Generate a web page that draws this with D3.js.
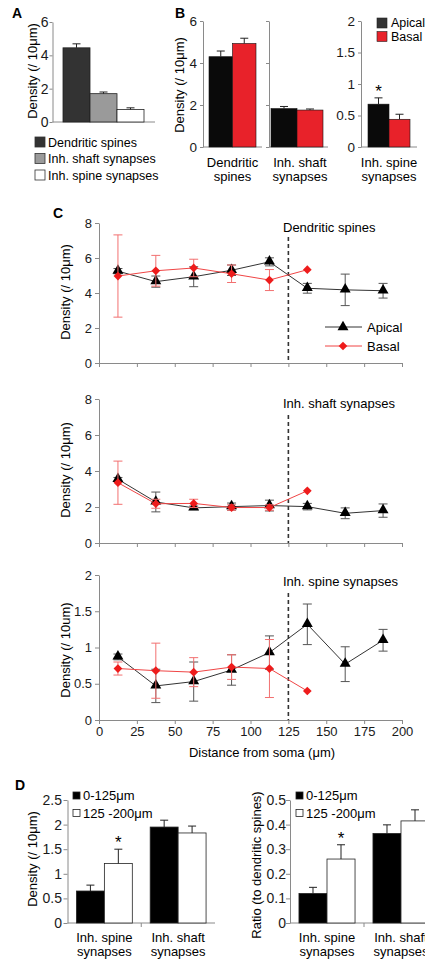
<!DOCTYPE html>
<html>
<head>
<meta charset="utf-8">
<script src="https://cdn.jsdelivr.net/npm/d3@7"></script>
<style>
body { margin: 0; background: #fff; }
svg { display: block; font-family: "Liberation Sans", Arial, sans-serif; }
.axis path, .axis line { stroke: #8a8a8a; }
.axis text { fill: #1a1a1a; font-size: 13px; font-family: "Liberation Sans", Arial, sans-serif; }
</style>
</head>
<body>
<div id="chart"></div>
<script>
// Panel A
var aCats = ["Dendritic spines", "Inh. shaft synapses", "Inh. spine synapses"];
var aValues = [4.45, 1.7, 0.75];
var aErrors = [0.24, 0.1, 0.1];
var aTicks = [0, 2, 4, 6];

// Panel B
var bGroups = ["Dendritic spines", "Inh. shaft synapses", "Inh. spine synapses"];
var bSeries = ["Apical", "Basal"];
var bApical = [4.3, 1.83, 0.68];
var bApicalErr = [0.27, 0.1, 0.1];
var bBasal = [4.93, 1.76, 0.44];
var bBasalErr = [0.25, 0.05, 0.08];

// Panel C
var distances = [12.5, 37.5, 62.5, 87.5, 112.5, 137.5, 162.5, 187.5];
var cXTicks = [0, 25, 50, 75, 100, 125, 150, 175, 200];
var spinesApical = [5.25, 4.65, 4.93, 5.3, 5.78, 4.27, 4.18, 4.13];
var spinesApicalErr = [0.15, 0.32, 0.57, 0.3, 0.23, 0.28, 0.9, 0.42];
var spinesBasal = [4.97, 5.27, 5.43, 5.1, 4.74, 5.33];
var spinesBasalErr = [2.35, 0.88, 0.5, 0.5, 0.6, 0];
var shaftApical = [3.54, 2.28, 1.95, 2.02, 2.08, 2.02, 1.65, 1.8];
var shaftApicalErr = [0.1, 0.55, 0.1, 0.2, 0.3, 0.18, 0.3, 0.37];
var shaftBasal = [3.35, 2.18, 2.2, 1.97, 1.97, 2.9];
var shaftBasalErr = [1.2, 0.25, 0.23, 0.15, 0.15, 0];
var inhSpineApical = [0.87, 0.47, 0.53, 0.69, 0.93, 1.32, 0.77, 1.1];
var inhSpineApicalErr = [0.04, 0.23, 0.27, 0.21, 0.23, 0.28, 0.24, 0.15];
var inhSpineBasal = [0.71, 0.68, 0.66, 0.73, 0.71, 0.4];
var inhSpineBasalErr = [0.09, 0.38, 0.2, 0.17, 0.4, 0];

// Panel D
var dGroups = ["Inh. spine synapses", "Inh. shaft synapses"];
var dRanges = ["0-125μm", "125 -200μm"];
var dDensityNear = [0.65, 1.95];
var dDensityNearErr = [0.12, 0.14];
var dDensityFar = [1.21, 1.83];
var dDensityFarErr = [0.29, 0.14];
var dRatioNear = [0.12, 0.364];
var dRatioNearErr = [0.025, 0.035];
var dRatioFar = [0.26, 0.415];
var dRatioFarErr = [0.058, 0.045];

var svg = d3.select("#chart").append("svg")
    .attr("width", 425)
    .attr("height", 963);

var fmt = d3.format("~g");

function yAxis(scale, x, ticks, showLabels, size, tSize, tPad) {
    var ax = d3.axisLeft(scale).tickValues(ticks)
        .tickSize(tSize == null ? 4 : tSize)
        .tickPadding(tPad == null ? 3 : tPad)
        .tickSizeOuter(0)
        .tickFormat(showLabels ? fmt : "");
    var g = svg.append("g").attr("class", "axis")
        .attr("transform", "translate(" + x + ",0)")
        .call(ax);
    if (size) g.selectAll("text").style("font-size", size + "px");
    return g;
}

function hLine(x1, x2, y) {
    svg.append("line").attr("x1", x1).attr("x2", x2).attr("y1", y).attr("y2", y)
        .attr("stroke", "#8a8a8a");
}

function panelLetter(t, x, y) {
    svg.append("text").attr("x", x).attr("y", y).text(t)
        .style("font-weight", "bold").style("font-size", "14px");
}

function yTitle(t, x, y) {
    svg.append("text").attr("transform", "translate(" + x + "," + y + ") rotate(-90)")
        .attr("text-anchor", "middle").style("font-size", "13px").text(t);
}

// draw upward error bar
function upErr(cx, yTop, yBar, w, color) {
    svg.append("line").attr("x1", cx).attr("x2", cx).attr("y1", yBar).attr("y2", yTop)
        .attr("stroke", color || "#222");
    svg.append("line").attr("x1", cx - w / 2).attr("x2", cx + w / 2).attr("y1", yTop).attr("y2", yTop)
        .attr("stroke", color || "#222");
}

function twoLines(name, cx, y1, y2) {
    var i = name.lastIndexOf(" ");
    var t = svg.append("text").attr("text-anchor", "middle").style("font-size", "13px");
    t.append("tspan").attr("x", cx).attr("y", y1).text(name.slice(0, i));
    t.append("tspan").attr("x", cx).attr("y", y2).text(name.slice(i + 1));
}

// ---------- A ----------
panelLetter("A", 12, 18);
var yA = d3.scaleLinear().domain([0, 6]).range([122, 22]);
var xA = d3.scaleBand().domain(aCats).range([63, 144]);
var aFills = ["#333333", "#9a9a9a", "#ffffff"];
yAxis(yA, 52.5, aTicks, true, 14, 3, 1);
hLine(52.5, 155, 122);
svg.selectAll(".barA").data(aCats).enter().append("rect")
    .attr("class", "barA")
    .attr("x", function(d) { return xA(d); })
    .attr("width", xA.bandwidth())
    .attr("y", function(d, i) { return yA(aValues[i]); })
    .attr("height", function(d, i) { return yA(0) - yA(aValues[i]); })
    .attr("fill", function(d, i) { return aFills[i]; })
    .attr("stroke", "#222").attr("stroke-width", 0.8);
aCats.forEach(function(c, i) {
    upErr(xA(c) + xA.bandwidth() / 2, yA(aValues[i] + aErrors[i]), yA(aValues[i]), 8);
});
yTitle("Density (/ 10μm)", 37, 71);
aCats.forEach(function(c, i) {
    var cy = 142 + i * 16.5;
    svg.append("rect").attr("x", 35).attr("y", cy - 5).attr("width", 10).attr("height", 10)
        .attr("fill", aFills[i]).attr("stroke", "#333").attr("stroke-width", 0.8);
    svg.append("text").attr("x", 48).attr("y", cy + 4.5).style("font-size", "12.5px").text(c);
});

// ---------- B ----------
panelLetter("B", 175, 18);
var bLayout = [
    { axisX: 203, bars: [209, 256], end: 262, yMax: 6, ticks: [0, 2, 4, 6], labels: true },
    { axisX: 269, bars: [271, 323], end: 328, yMax: 6, ticks: [0, 2, 4, 6], labels: false },
    { axisX: 361, bars: [368, 410], end: 417, yMax: 2, ticks: [0, 0.5, 1, 1.5, 2], labels: true }
];
var bColors = ["#0a0a0a", "#e8222a"];
bGroups.forEach(function(grp, gi) {
    var L = bLayout[gi];
    var y = d3.scaleLinear().domain([0, L.yMax]).range([147, 21]);
    var x = d3.scaleBand().domain(bSeries).range(L.bars);
    yAxis(y, L.axisX, L.ticks, L.labels, 13.5, 3, 3);
    hLine(L.axisX, L.end, 147);
    var vals = [bApical[gi], bBasal[gi]];
    var errs = [bApicalErr[gi], bBasalErr[gi]];
    bSeries.forEach(function(s, si) {
        svg.append("rect")
            .attr("x", x(s)).attr("width", x.bandwidth())
            .attr("y", y(vals[si])).attr("height", y(0) - y(vals[si]))
            .attr("fill", bColors[si]).attr("stroke", "#111").attr("stroke-width", 0.6);
        upErr(x(s) + x.bandwidth() / 2, y(vals[si] + errs[si]), y(vals[si]), 8);
    });
    twoLines(grp, (L.bars[0] + L.bars[1]) / 2 + (gi === 1 ? 3 : 0), 167, 181);
    if (gi === 2) {
        svg.append("text").attr("x", x("Apical") + x.bandwidth() / 2).attr("y", y(vals[0] + errs[0]) - 1)
            .attr("text-anchor", "middle").style("font-size", "17px").text("*");
    }
});
yTitle("Density (/ 10μm)", 184, 85);
bSeries.forEach(function(s, i) {
    var cy = 23 + i * 13.5;
    svg.append("rect").attr("x", 377).attr("y", cy - 5).attr("width", 10).attr("height", 10)
        .attr("fill", i === 0 ? "#333" : bColors[1]).attr("stroke", "#222").attr("stroke-width", 0.6);
    svg.append("text").attr("x", 391).attr("y", cy + 4.3).style("font-size", "12.5px").text(s);
});

// ---------- C ----------
panelLetter("C", 53, 218);
var xC = d3.scaleLinear().domain([0, 200]).range([99, 402]);
var cCharts = [
    { title: "Dendritic spines", ylab: "Density (/ 10μm)", ap: spinesApical, apE: spinesApicalErr,
      ba: spinesBasal, baE: spinesBasalErr, yMax: 8, ticks: [0, 2, 4, 6, 8],
      top: 223, bottom: 363, titleY: 231.5, dashTop: 237, labY: 292, xLabels: false, legend: true },
    { title: "Inh. shaft synapses", ylab: "Density (/ 10μm)", ap: shaftApical, apE: shaftApicalErr,
      ba: shaftBasal, baE: shaftBasalErr, yMax: 8, ticks: [0, 2, 4, 6, 8],
      top: 399, bottom: 543, titleY: 407.5, dashTop: 415, labY: 470, xLabels: false, legend: false },
    { title: "Inh. spine synapses", ylab: "Density (/ 10um)", ap: inhSpineApical, apE: inhSpineApicalErr,
      ba: inhSpineBasal, baE: inhSpineBasalErr, yMax: 2, ticks: [0, 0.5, 1, 1.5, 2],
      top: 575, bottom: 720, titleY: 585.5, dashTop: 593, labY: 650, xLabels: true, legend: false }
];
var apColor = "#333333", apErrColor = "#555555";
var baColor = "#f04545", baErrColor = "#f27070", baMarker = "#ee1c1c";
var tri = d3.symbol().type(d3.symbolTriangle).size(52);
var sq = d3.symbol().type(d3.symbolSquare).size(38);

function errBars(x, y, vals, errs, color) {
    vals.forEach(function(v, i) {
        if (!errs[i]) return;
        var cx = x(distances[i]);
        var y1 = y(v + errs[i]), y2 = y(v - errs[i]);
        svg.append("line").attr("x1", cx).attr("x2", cx).attr("y1", y1).attr("y2", y2).attr("stroke", color);
        [y1, y2].forEach(function(yy) {
            svg.append("line").attr("x1", cx - 4.5).attr("x2", cx + 4.5).attr("y1", yy).attr("y2", yy).attr("stroke", color);
        });
    });
}

cCharts.forEach(function(c) {
    var y = d3.scaleLinear().domain([0, c.yMax]).range([c.bottom, c.top]);
    yAxis(y, 99, c.ticks, true);
    var xa = d3.axisBottom(xC).tickValues(cXTicks).tickSize(4).tickPadding(3).tickSizeOuter(0)
        .tickFormat(c.xLabels ? fmt : "");
    svg.append("g").attr("class", "axis").attr("transform", "translate(0," + c.bottom + ")").call(xa);
    svg.append("line").attr("x1", xC(125)).attr("x2", xC(125)).attr("y1", c.dashTop).attr("y2", c.bottom)
        .attr("stroke", "#333").attr("stroke-width", 1.6).attr("stroke-dasharray", "4,3");
    svg.append("text").attr("x", 283).attr("y", c.titleY).style("font-size", "13px").text(c.title);
    yTitle(c.ylab, 70, c.labY);

    var line = d3.line().x(function(d, i) { return xC(distances[i]); }).y(function(d) { return y(d); });
    // apical
    errBars(xC, y, c.ap, c.apE, apErrColor);
    svg.append("path").datum(c.ap).attr("d", line).attr("fill", "none").attr("stroke", apColor).attr("stroke-width", 1);
    svg.selectAll(null).data(c.ap).enter().append("path")
        .attr("d", tri)
        .attr("transform", function(d, i) { return "translate(" + xC(distances[i]) + "," + (y(d) - 0.5) + ")"; })
        .attr("fill", "#000");
    // basal
    errBars(xC, y, c.ba, c.baE, baErrColor);
    svg.append("path").datum(c.ba).attr("d", line).attr("fill", "none").attr("stroke", baColor).attr("stroke-width", 1);
    svg.selectAll(null).data(c.ba).enter().append("path")
        .attr("d", sq)
        .attr("transform", function(d, i) { return "translate(" + xC(distances[i]) + "," + y(d) + ") rotate(45)"; })
        .attr("fill", baMarker);

    if (c.legend) {
        [["Apical", apColor, tri, 327, "#000", 0], ["Basal", baColor, sq, 346, baMarker, 45]].forEach(function(l) {
            svg.append("line").attr("x1", 325).attr("x2", 362).attr("y1", l[3]).attr("y2", l[3]).attr("stroke", l[1]);
            svg.append("path").attr("d", l[2]).attr("fill", l[4])
                .attr("transform", "translate(343," + l[3] + ") rotate(" + l[5] + ")");
            svg.append("text").attr("x", 367).attr("y", l[3] + 4.5).style("font-size", "13px").text(l[0]);
        });
    }
});
svg.append("text").attr("x", 262).attr("y", 757).attr("text-anchor", "middle")
    .style("font-size", "13px").text("Distance from soma (μm)");

// ---------- D ----------
panelLetter("D", 15, 790);
function dChart(axisX, rangeEnd, yMax, ticks, near, nearErr, far, farErr, ylab, labX, labY, legX, tPad) {
    var y = d3.scaleLinear().domain([0, yMax]).range([923, 800]);
    var x0 = d3.scaleBand().domain(dGroups).range([axisX, rangeEnd]);
    var x1 = d3.scaleBand().domain(dRanges).range([0, x0.bandwidth()]).paddingOuter(0.32);
    yAxis(y, axisX, ticks, true, 14, 4, tPad);
    hLine(axisX, rangeEnd, 923);
    svg.append("line").attr("x1", x0(dGroups[1])).attr("x2", x0(dGroups[1]))
        .attr("y1", 923).attr("y2", 927).attr("stroke", "#8a8a8a");
    dGroups.forEach(function(g, gi) {
        var vals = [near[gi], far[gi]], errs = [nearErr[gi], farErr[gi]];
        dRanges.forEach(function(r, ri) {
            var bx = x0(g) + x1(r);
            svg.append("rect").attr("x", bx).attr("width", x1.bandwidth())
                .attr("y", y(vals[ri])).attr("height", y(0) - y(vals[ri]))
                .attr("fill", ri === 0 ? "#000" : "#fff").attr("stroke", "#222").attr("stroke-width", 0.8);
            upErr(bx + x1.bandwidth() / 2, y(vals[ri] + errs[ri]), y(vals[ri]), 8);
        });
        twoLines(g, x0(g) + x0.bandwidth() / 2, 942, 956);
    });
    // asterisk over the far bar of the first group
    var ax = x0(dGroups[0]) + x1(dRanges[1]) + x1.bandwidth() / 2;
    svg.append("text").attr("x", ax).attr("y", y(far[0] + farErr[0]) - 1)
        .attr("text-anchor", "middle").style("font-size", "17px").text("*");
    yTitle(ylab, labX, labY);
    dRanges.forEach(function(r, i) {
        var cy = 795.5 + i * 17.5;
        svg.append("rect").attr("x", legX).attr("y", cy - 3.5).attr("width", 7).attr("height", 7)
            .attr("fill", i === 0 ? "#000" : "#fff").attr("stroke", "#222").attr("stroke-width", 0.8);
        svg.append("text").attr("x", legX + 10).attr("y", cy + 4.5).style("font-size", "13px").text(r);
    });
}
dChart(67.5, 215, 2.5, [0, 0.5, 1, 1.5, 2, 2.5], dDensityNear, dDensityNearErr, dDensityFar, dDensityFarErr,
    "Density (/ 10μm)", 37, 859, 73, 1.5);
dChart(290, 438, 0.5, [0, 0.1, 0.2, 0.3, 0.4, 0.5], dRatioNear, dRatioNearErr, dRatioFar, dRatioFarErr,
    "Ratio (to dendritic spines)", 261, 865, 296, 0);
</script>
</body>
</html>
